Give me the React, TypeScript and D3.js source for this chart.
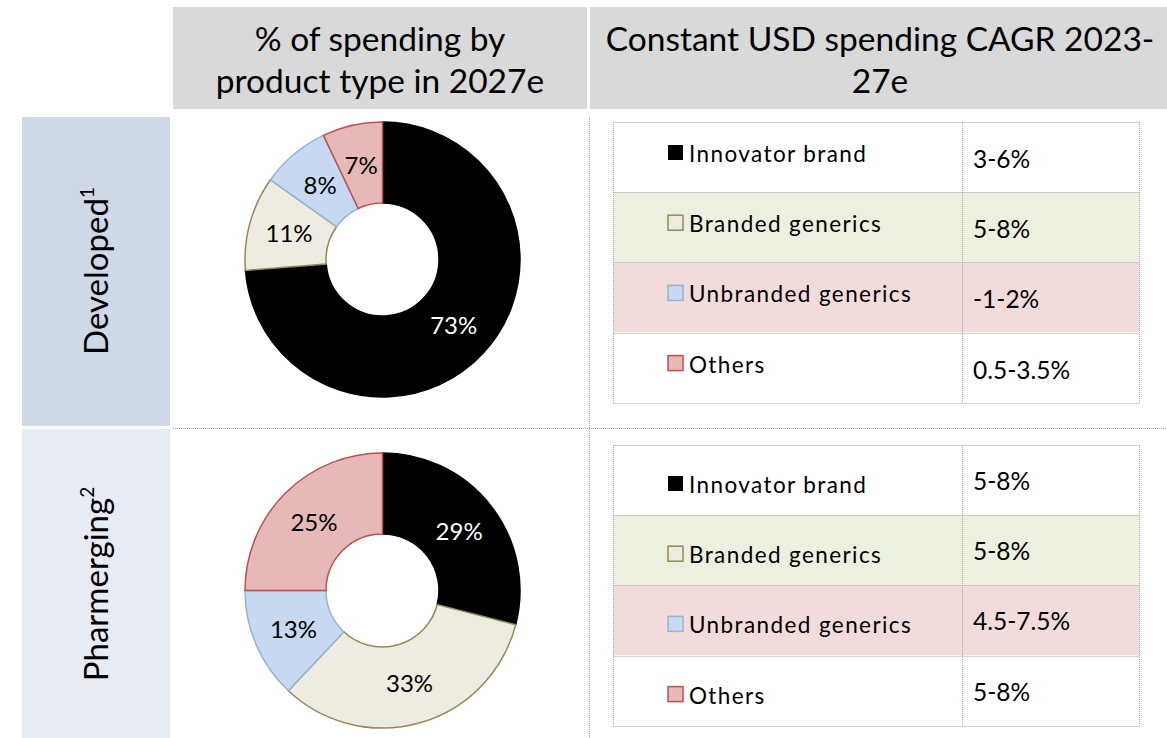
import React from "react";
import * as d3 from "d3";

// chart data
const categories = ["Innovator brand", "Branded generics", "Unbranded generics", "Others"];
const developedShares = [73, 11, 8, 7];
const pharmergingShares = [29, 33, 13, 25];
const developedCagr = ["3-6%", "5-8%", "-1-2%", "0.5-3.5%"];
const pharmergingCagr = ["5-8%", "5-8%", "4.5-7.5%", "5-8%"];
const regionNames = ["Developed", "Pharmerging"];
const regionNotes = ["1", "2"];
const leftTitle = ["% of spending by", "product type in 2027e"];
const rightTitle = ["Constant USD spending CAGR 2023-", "27e"];

// styles
const sliceFills = ["#000000", "#eeece1", "#c6d9f1", "#e6b9b8"];
const sliceStrokes = ["#000000", "#948a54", "#95b3d7", "#c0504d"];
const labelColors = ["#ffffff", "#000000", "#000000", "#000000"];
const rowFills = ["#ffffff", "#ebf1de", "#f2dcdb", "#ffffff"];
const regionFills = ["#cfd8e6", "#e7ebf3"];

const FONT = "Lato, 'Liberation Sans', sans-serif";
const W = 1167;
const H = 738;
const DOT = "#a6a6a6";

const outerR = 137.5;
const innerR = 56.5;

function Donut({cx, cy, shares}: {cx: number, cy: number, shares: number[]}) {
    const pie = d3.pie<number>().sort(null).value(d => d);
    const arcs = pie(shares);
    const arc = d3.arc<d3.PieArcDatum<number>>().innerRadius(innerR).outerRadius(outerR);
    const labelArc = d3.arc<d3.PieArcDatum<number>>()
        .innerRadius((innerR + outerR) / 2)
        .outerRadius((innerR + outerR) / 2);
    return (
        <g transform={`translate(${cx},${cy})`}>
            {arcs.map((a, i) => (
                <path key={"s" + i} d={arc(a) || ""} fill={sliceFills[i]}
                      stroke={sliceStrokes[i]} strokeWidth={1.5}/>
            ))}
            {arcs.map((a, i) => {
                const [x, y] = labelArc.centroid(a);
                return (
                    <text key={"l" + i} x={x} y={y} dy="0.36em" textAnchor="middle"
                          fontFamily={FONT} fontSize={24} fill={labelColors[i]}>
                        {shares[i] + "%"}
                    </text>
                );
            })}
        </g>
    );
}

function CagrTable({top, values, labelDy, valueDy}: {top: number, values: string[], labelDy: number, valueDy: number}) {
    const x0 = 613.5, x1 = 1139.5, xMid = 962.5;
    const rowH = 70.2;
    const y = d3.scaleLinear().domain([0, categories.length]).range([top, top + rowH * categories.length]);
    return (
        <g>
            {categories.map((c, i) => (
                <rect key={"bg" + i} x={x0} y={y(i)} width={x1 - x0} height={y(i + 1) - y(i)} fill={rowFills[i]}/>
            ))}
            {categories.map((c, i) => (
                <line key={"h" + i} x1={x0} x2={x1} y1={Math.round(y(i)) + 0.5} y2={Math.round(y(i)) + 0.5}
                      stroke={DOT} strokeDasharray="1 1"/>
            ))}
            <line x1={x0} x2={x1} y1={Math.round(y(4)) + 0.5} y2={Math.round(y(4)) + 0.5} stroke={DOT} strokeDasharray="1 1"/>
            <line x1={x0} x2={x0} y1={y(0)} y2={y(4)} stroke={DOT} strokeDasharray="1 1"/>
            <line x1={xMid} x2={xMid} y1={y(0)} y2={y(4)} stroke={DOT} strokeDasharray="1 1"/>
            <line x1={x1} x2={x1} y1={y(0)} y2={y(4)} stroke={DOT} strokeDasharray="1 1"/>
            {categories.map((c, i) => (
                <g key={"t" + i}>
                    <rect x={668} y={y(i) + labelDy - 17} width={15} height={15}
                          fill={sliceFills[i]} stroke={sliceStrokes[i]} strokeWidth={i === 0 ? 0 : 1.5}/>
                    <text x={689} y={y(i) + labelDy} fontFamily={FONT} fontSize={22.5} letterSpacing={1.4} fill="#000">{c}</text>
                    <text x={973} y={y(i) + valueDy} fontFamily={FONT} fontSize={24.5} fill="#000">{values[i]}</text>
                </g>
            ))}
        </g>
    );
}

export default function App() {
    return (
        <svg width={W} height={H} style={{position: "absolute", left: 0, top: 0, display: "block", background: "#fff"}}>
            {/* headers */}
            <rect x={173} y={7} width={414} height={102} fill="#d9d9d9"/>
            <rect x={590} y={7} width={577} height={102} fill="#d9d9d9"/>
            {leftTitle.map((t, i) => (
                <text key={"lt" + i} x={380} y={51 + i * 42} textAnchor="middle" fontFamily={FONT} fontSize={33.5}>{t}</text>
            ))}
            {rightTitle.map((t, i) => (
                <text key={"rt" + i} x={880} y={51 + i * 42} textAnchor="middle" fontFamily={FONT} fontSize={33.5}>{t}</text>
            ))}

            {/* region labels */}
            <rect x={22} y={117} width={148} height={309} fill={regionFills[0]}/>
            <rect x={22} y={429} width={148} height={309} fill={regionFills[1]}/>
            {regionNames.map((r, i) => (
                <text key={"r" + i} transform={`translate(108,${i === 0 ? 271 : 584}) rotate(-90)`}
                      textAnchor="middle" fontFamily={FONT} fontSize={33}>
                    {r}<tspan fontSize={19} dy={-14}>{regionNotes[i]}</tspan>
                </text>
            ))}

            {/* grid separators */}
            <line x1={589.5} x2={589.5} y1={117} y2={H} stroke={DOT} strokeDasharray="1 1"/>
            <line x1={173} x2={W} y1={428.5} y2={428.5} stroke={DOT} strokeDasharray="1 1"/>

            <Donut cx={382.5} cy={259.5} shares={developedShares}/>
            <Donut cx={382.5} cy={590.5} shares={pharmergingShares}/>

            <CagrTable top={122} values={developedCagr} labelDy={40} valueDy={46}/>
            <CagrTable top={445} values={pharmergingCagr} labelDy={48} valueDy={45}/>
        </svg>
    );
}
